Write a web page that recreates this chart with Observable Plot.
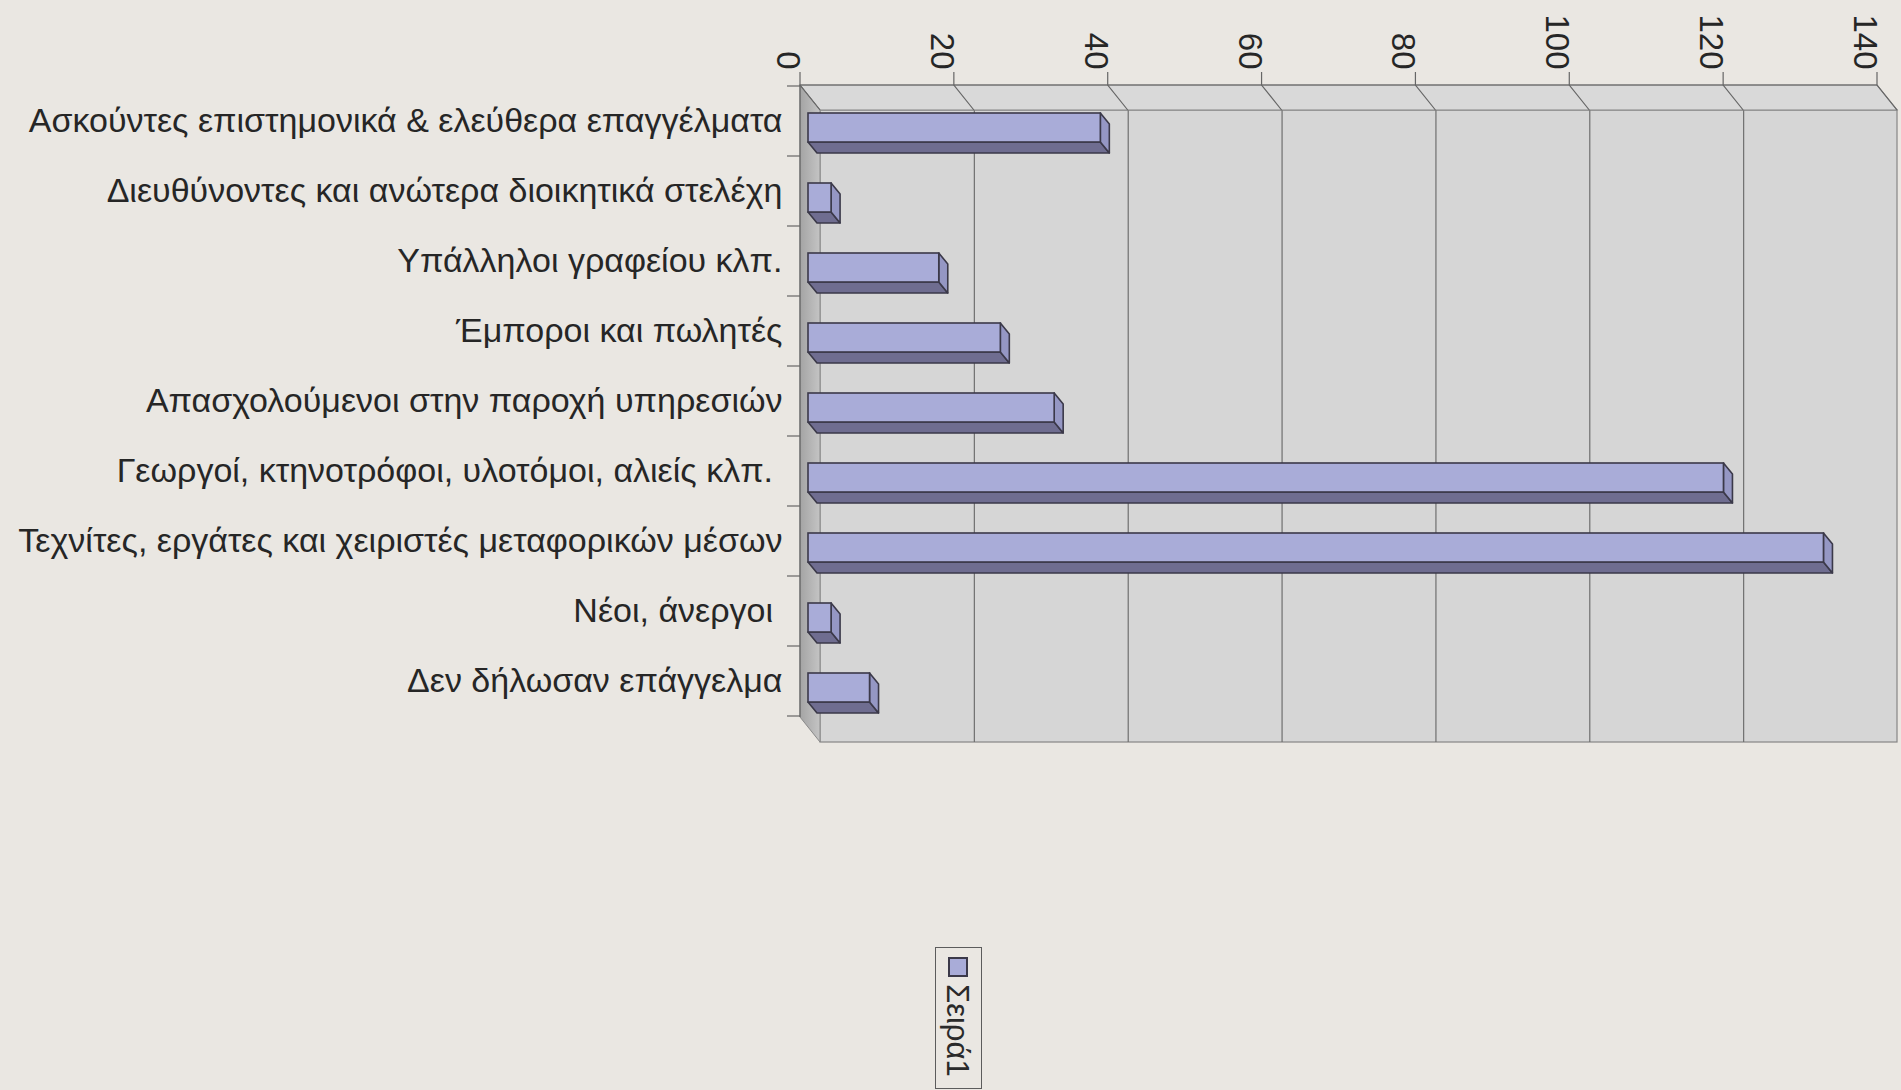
<!DOCTYPE html>
<html>
<head>
<meta charset="utf-8">
<script src="https://cdn.jsdelivr.net/npm/d3@7"></script>
<script src="https://cdn.jsdelivr.net/npm/@observablehq/plot@0.6"></script>
<style>
  html, body { margin: 0; padding: 0; background: #eae7e2; }
  #wrap { position: relative; width: 1901px; height: 1090px; overflow: hidden;
          font-family: "Liberation Sans", Arial, sans-serif; }
  #wrap svg text { white-space: pre; }
  #legend { position: absolute; left: 935px; top: 947px; width: 47px; height: 142px;
            border: 1.5px solid #5c5c5c; box-sizing: border-box; background: #eae7e2; }
  #legend .sw { position: absolute; left: 12px; top: 9px; width: 20px; height: 20px;
                background: #a9acd8; border: 2px solid #3b3949; box-sizing: border-box; }
  #legend .lb { position: absolute; left: 6px; top: 36px; writing-mode: vertical-rl;
                font-size: 31px; color: #2a2a2a; line-height: 1; }
</style>
</head>
<body>
<div id="wrap"></div>
<script>
// ---- data ----
const categories = [
  "Ασκούντες επιστημονικά & ελεύθερα επαγγέλματα",
  "Διευθύνοντες και ανώτερα διοικητικά στελέχη",
  "Υπάλληλοι γραφείου κλπ.",
  "Έμποροι και πωλητές",
  "Απασχολούμενοι στην παροχή υπηρεσιών",
  "Γεωργοί, κτηνοτρόφοι, υλοτόμοι, αλιείς κλπ. ",
  "Τεχνίτες, εργάτες και χειριστές μεταφορικών μέσων",
  "Νέοι, άνεργοι ",
  "Δεν δήλωσαν επάγγελμα"
];
const values = [38, 3, 17, 25, 32, 119, 132, 3, 8];
const xTicks = [0, 20, 40, 60, 80, 100, 120, 140];
const seriesName = "Σειρά1";

const data = categories.map((c, i) => ({category: c, value: values[i]}));

// ---- 3D styling constants ----
const DX = 20, DY = 25;          // wall depth
const BX = 8, BY = 10;           // bar front offset within depth
const BDX = 9, BDY = 11;         // bar depth
const INSET_TOP = 17, INSET_BOTTOM = 24;
const TICK = 13;
const ink = "#262626";

function walls(index, scales, values_, dim) {
  const x = scales.x, y = scales.y;
  const L = x(0), R = x(140), T = dim.marginTop, B = dim.height - dim.marginBottom;
  const bw = y.bandwidth ? y.bandwidth() : (B - T) / categories.length;
  const g = d3.create("svg:g");
  const defs = g.append("defs");
  const lg = defs.append("linearGradient").attr("id", "lw").attr("x1", 0).attr("x2", 1).attr("y1", 0).attr("y2", 0);
  lg.append("stop").attr("offset", 0).attr("stop-color", "#a4a4a4");
  lg.append("stop").attr("offset", 1).attr("stop-color", "#c4c4c4");
  // top face
  g.append("path")
    .attr("d", `M${L},${T}L${R},${T}L${R + DX},${T + DY}L${L + DX},${T + DY}Z`)
    .attr("fill", "#d9d9d9").attr("stroke", "#858585").attr("stroke-width", 1.2);
  // left wall
  g.append("path")
    .attr("d", `M${L},${T}L${L + DX},${T + DY}L${L + DX},${B + DY}L${L},${B}Z`)
    .attr("fill", "url(#lw)").attr("stroke", "#8a8a8a").attr("stroke-width", 1);
  // tick connectors on top face
  for (const t of xTicks) {
    g.append("path")
      .attr("d", `M${x(t)},${T - TICK}L${x(t)},${T}L${x(t) + DX},${T + DY}`)
      .attr("fill", "none").attr("stroke", "#666").attr("stroke-width", 1.2);
  }
  // front left axis line and category ticks
  g.append("path").attr("d", `M${L},${T}L${L},${B}`).attr("stroke", "#666").attr("stroke-width", 1.2);
  const y0 = y(categories[0]);
  for (let k = 0; k <= categories.length; k++) {
    const yy = y0 + k * bw;
    g.append("path").attr("d", `M${L - TICK},${yy}L${L},${yy}`).attr("stroke", "#666").attr("stroke-width", 1.2);
  }
  g.append("path").attr("d", `M${L},${T}L${R},${T}`).attr("stroke", "#666").attr("stroke-width", 1.2);
  return g.node();
}

function barSides(index, scales, values_, dim) {
  const x = scales.x, y = scales.y;
  const bw = y.bandwidth();
  const g = d3.create("svg:g");
  for (const d of data) {
    const xa = x(0) + BX, xb = x(d.value) + BX;
    const ya = y(d.category) + INSET_TOP + BY, yb = y(d.category) + bw - INSET_BOTTOM + BY;
    g.append("path")
      .attr("d", `M${xa},${yb}L${xb},${yb}L${xb + BDX},${yb + BDY}L${xa + BDX},${yb + BDY}Z`)
      .attr("fill", "#6f6d90").attr("stroke", "#3b3949").attr("stroke-width", 1.6).attr("stroke-linejoin", "round");
    g.append("path")
      .attr("d", `M${xb},${ya}L${xb + BDX},${ya + BDY}L${xb + BDX},${yb + BDY}L${xb},${yb}Z`)
      .attr("fill", "#9597c4").attr("stroke", "#3b3949").attr("stroke-width", 1.6).attr("stroke-linejoin", "round");
  }
  return g.node();
}

const H = 930;
const chart = Plot.plot({
  width: 1901,
  height: H,
  marginLeft: 800,
  marginRight: 24,
  marginTop: 85,
  marginBottom: H - 717,
  x: {domain: [0, 140], axis: null},
  y: {domain: categories, axis: null, padding: 0},
  style: {background: "transparent", fontFamily: "'Liberation Sans', Arial, sans-serif", overflow: "visible"},
  marks: [
    // back wall
    Plot.rect([0], {x1: 0, x2: 140, dx: DX, dy: DY, fill: "#d6d6d6", stroke: "#858585", strokeWidth: 1.2}),
    // back gridlines
    Plot.ruleX(xTicks.filter(t => t > 0 && t < 140), {dx: DX, dy: DY, stroke: "#6f6f6f", strokeWidth: 1.2}),
    walls,
    barSides,
    // front face of bars
    Plot.barX(data, {
      x: "value", y: "category",
      insetTop: INSET_TOP, insetBottom: INSET_BOTTOM,
      dx: BX, dy: BY,
      fill: "#a9acd8", stroke: "#3b3949", strokeWidth: 1.6
    }),
    // x tick labels (rotated)
    Plot.text(xTicks, {
      x: d => d, frameAnchor: "top", rotate: 90, textAnchor: "end",
      dy: -TICK - 3, fontSize: 33, fill: ink
    }),
    // category labels
    Plot.text(data, {
      y: "category", text: "category", frameAnchor: "left", textAnchor: "end",
      dx: -18, fontSize: 34, fill: ink
    })
  ]
});

const wrap = document.getElementById("wrap");
wrap.appendChild(chart);

const legend = document.createElement("div");
legend.id = "legend";
legend.innerHTML = `<div class="sw"></div><div class="lb">${seriesName}</div>`;
wrap.appendChild(legend);
</script>
</body>
</html>
